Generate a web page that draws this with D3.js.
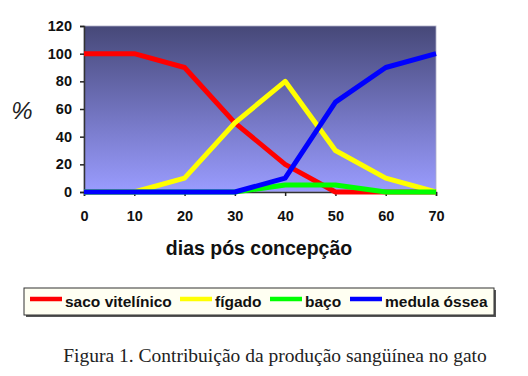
<!DOCTYPE html>
<html>
<head>
<meta charset="utf-8">
<script src="https://cdn.jsdelivr.net/npm/d3@7"></script>
<style>
  body { margin: 0; background: #fff; }
  svg { display: block; }
</style>
</head>
<body>
<svg id="chart" width="528" height="376"></svg>
<script>
const days = [0, 10, 20, 30, 40, 50, 60, 70];
const sacoVitelinico = [100, 100, 90, 50, 20, 0, 0, 0];
const figado = [0, 0, 10, 50, 80, 30, 10, 0];
const baco = [0, 0, 0, 0, 5, 5, 0, 0];
const medulaOssea = [0, 0, 0, 0, 10, 65, 90, 100];
const seriesNames = ["saco vitelínico", "fígado", "baço", "medula óssea"];
const seriesColors = ["#ff0000", "#ffff00", "#00ff00", "#0000ff"];
const yTicks = [0, 20, 40, 60, 80, 100, 120];

const series = [sacoVitelinico, figado, baco, medulaOssea];
const svg = d3.select("#chart");
const plotL = 84, plotR = 436, plotT = 26, plotB = 192;

const x = d3.scaleLinear().domain([0, 70]).range([plotL, plotR]);
const y = d3.scaleLinear().domain([0, 120]).range([plotB, plotT]);

const grad = svg.append("defs").append("linearGradient")
    .attr("id", "bg").attr("x1", 0).attr("y1", 0).attr("x2", 0).attr("y2", 1);
grad.append("stop").attr("offset", "0%").attr("stop-color", "#464878");
grad.append("stop").attr("offset", "100%").attr("stop-color", "#9a9cff");

svg.append("rect").attr("x", plotL).attr("y", plotT)
    .attr("width", plotR - plotL).attr("height", plotB - plotT)
    .attr("fill", "url(#bg)").attr("stroke", "#b0b0c8").attr("stroke-width", 0.8);

const font = "Arial, 'Liberation Sans', sans-serif";

const yAxis = svg.append("g").attr("transform", `translate(${plotL},0)`)
    .call(d3.axisLeft(y).tickValues(yTicks).tickSize(4).tickPadding(8));
const xAxis = svg.append("g").attr("transform", `translate(0,${plotB})`)
    .call(d3.axisBottom(x).tickValues(days).tickSize(4).tickPadding(15));
[yAxis, xAxis].forEach(g => {
  g.select(".domain").attr("stroke", "#333").attr("stroke-width", 1.5);
  g.selectAll(".tick line").attr("stroke", "#222").attr("stroke-width", 1.5);
  g.selectAll(".tick text").attr("font-family", font).attr("font-weight", "bold")
    .attr("font-size", 14.5).attr("fill", "#111");
});

const line = d3.line().x((d, i) => x(days[i])).y(d => y(d));
series.forEach((s, k) => {
  svg.append("path").datum(s).attr("d", line)
    .attr("fill", "none").attr("stroke", seriesColors[k])
    .attr("stroke-width", 5).attr("stroke-linejoin", "round");
});

svg.append("text").attr("x", 22).attr("y", 119).attr("text-anchor", "middle")
    .attr("font-family", font).attr("font-style", "italic").attr("font-size", 24)
    .attr("fill", "#222").text("%");

svg.append("text").attr("x", 259).attr("y", 255).attr("text-anchor", "middle")
    .attr("font-family", font).attr("font-weight", "bold").attr("font-size", 19.5)
    .attr("fill", "#111").text("dias pós concepção");

// legend
svg.append("rect").attr("x", 26).attr("y", 290).attr("width", 470).attr("height", 27)
    .attr("fill", "#555");
svg.append("rect").attr("x", 24).attr("y", 288).attr("width", 470).attr("height", 27)
    .attr("fill", "#fffff2").attr("stroke", "#333").attr("stroke-width", 1);
const legX = [30, 180, 270, 350];
seriesNames.forEach((n, k) => {
  svg.append("line").attr("x1", legX[k]).attr("x2", legX[k] + 32)
      .attr("y1", 299).attr("y2", 299)
      .attr("stroke", seriesColors[k]).attr("stroke-width", 4.5);
  svg.append("text").attr("x", legX[k] + 35).attr("y", 307)
      .attr("font-family", font).attr("font-weight", "bold").attr("font-size", 15.5)
      .attr("fill", "#111").text(n);
});

svg.append("text").attr("x", 275).attr("y", 362).attr("text-anchor", "middle")
    .attr("font-family", "'Liberation Serif', 'Times New Roman', serif").attr("font-size", 19.5)
    .attr("fill", "#222").text("Figura 1. Contribuição da produção sangüínea no gato");
</script>
</body>
</html>
